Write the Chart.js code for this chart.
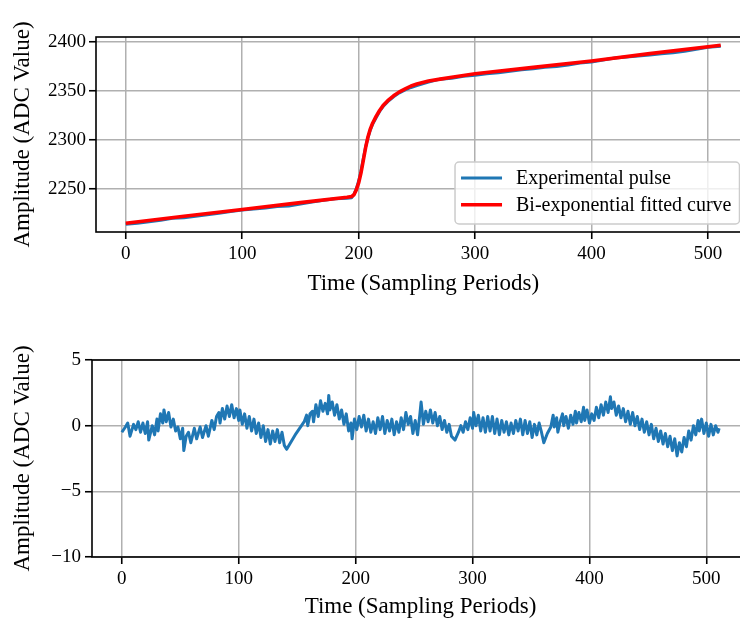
<!DOCTYPE html>
<html>
<head>
<meta charset="utf-8">
<script src="https://cdn.jsdelivr.net/npm/chart.js@4.4.1/dist/chart.umd.min.js"></script>
<style>
html, body { margin: 0; padding: 0; background: #fff; overflow: hidden; }
#wrap { position: relative; width: 740px; height: 621px; overflow: hidden; }
canvas { position: absolute; left: 0; }
#top { top: 0; }
#bottom { top: 320px; }
</style>
</head>
<body>
<div id="wrap">
  <canvas id="top" width="760" height="300"></canvas>
  <canvas id="bottom" width="760" height="301"></canvas>
</div>
<script>
// tick positions
const timeTicks = [0, 100, 200, 300, 400, 500]
const pulseTicks = [2250, 2300, 2350, 2400]
const residualTicks = [-10, -5, 0, 5]

// experimental pulse (ADC samples)
const pulseTime = [0, 10, 20, 30, 40, 50, 60, 70, 80, 90, 100, 110, 120, 130, 140, 150, 160, 170, 180, 190,
  194, 196, 198, 200, 202, 204, 206, 208, 210, 212, 215, 218, 221, 225, 230, 235, 240, 245, 250, 260,
  270, 280, 290, 300, 310, 320, 330, 340, 350, 360, 370, 380, 390, 400, 410, 420, 430, 440, 450, 460,
  470, 480, 490, 500, 511]
const pulseValue = [2214, 2215, 2216.5, 2218, 2220, 2220.5, 2222, 2223.5, 2225, 2227, 2228.5, 2229.5, 2230.5, 2232, 2232.5, 2234.5, 2236.5, 2238.5, 2240, 2240.5,
  2241, 2244.5, 2250, 2258, 2268, 2281, 2293, 2302, 2310, 2316, 2322.5, 2329, 2334, 2339, 2344, 2348, 2351, 2353.5, 2355.5, 2359,
  2362, 2363, 2365, 2366, 2367.5, 2368.5, 2370, 2371.5, 2372.5, 2374, 2375, 2376.5, 2378.5, 2379.5, 2381.5, 2383.5, 2384.5, 2385.5, 2386.5, 2388,
  2389, 2390.5, 2392.5, 2394.5, 2395.5]

// bi-exponential fit
const fitTime = [0, 50, 100, 150, 190, 194, 196, 198, 200, 202, 204, 206, 208, 210, 212, 215, 218, 221, 225, 230,
  235, 240, 245, 250, 260, 270, 280, 300, 350, 400, 450, 511]
const fitValue = [2215, 2222, 2229, 2236, 2241.5, 2242.3, 2244, 2249, 2256, 2266, 2279, 2292, 2303, 2311, 2317, 2324, 2330, 2335, 2340, 2345,
  2349, 2352, 2355, 2357, 2360, 2362, 2364, 2367.5, 2374, 2380.5, 2388, 2396.5]

// residual (experimental - fit)
const residualTime = [0, 3, 5, 7, 10, 12, 14, 16, 18, 20, 22, 23, 26, 28, 30, 31, 33, 35, 36, 38,
  40, 42, 44, 46, 48, 50, 52, 53, 55, 57, 59, 62, 64, 67, 69, 72, 74, 77, 79, 81,
  83, 84, 86, 88, 90, 92, 94, 96, 98, 100, 101, 103, 105, 107, 109, 111, 113, 115, 117, 119,
  121, 123, 125, 127, 129, 131, 133, 135, 137, 139, 141, 149, 156, 158, 159, 161, 163, 164, 166, 168,
  170, 172, 174, 176, 177, 178, 180, 182, 184, 186, 188, 190, 192, 194, 196, 197, 199, 201, 203, 205,
  207, 209, 211, 213, 215, 217, 219, 221, 223, 225, 227, 229, 231, 233, 235, 237, 239, 241, 243, 245,
  247, 249, 251, 253, 255, 256, 258, 260, 262, 264, 266, 268, 270, 272, 274, 276, 278, 280, 282, 285,
  288, 290, 292, 294, 296, 298, 300, 301, 303, 305, 307, 309, 311, 313, 315, 317, 319, 321, 323, 325,
  327, 329, 331, 333, 335, 337, 339, 341, 343, 345, 347, 349, 351, 353, 355, 357, 359, 361, 364, 367,
  369, 370, 372, 373, 375, 377, 378, 380, 382, 384, 386, 388, 389, 391, 393, 395, 396, 398, 400, 402,
  404, 406, 408, 410, 412, 414, 416, 418, 419, 421, 423, 425, 427, 429, 431, 433, 435, 437, 439, 441,
  443, 445, 447, 449, 451, 453, 455, 457, 459, 461, 463, 465, 467, 469, 471, 473, 475, 477, 479, 481,
  483, 485, 487, 489, 491, 493, 494, 496, 498, 500, 502, 504, 506, 508, 510, 511]
const residualValue = [-0.5, -0.1, 0.2, -0.8, 0.1, -0.3, 0.3, -0.5, 0.2, -0.6, 0.3, -1.1, 0.0, -0.7, 0.5, -0.4, 0.9, 0.2, 1.2, 0.3,
  1.0, -0.1, 0.5, -0.4, -0.1, -1.0, -0.2, -1.9, -0.8, -0.5, -1.3, -0.2, -1.0, -0.1, -0.9, 0.0, -0.8, 0.4, -0.3, 0.7,
  1.0, 0.2, 1.3, 0.5, 1.5, 0.7, 1.6, 0.6, 1.3, 0.4, 1.2, 0.1, 0.9, -0.2, 0.7, -0.4, 0.5, -0.6, 0.2, -0.9,
  0.0, -1.2, -0.3, -1.4, -0.4, -1.2, -0.3, -1.3, -0.5, -1.5, -1.8, -0.6, 0.3, 0.8, 0.0, 0.9, 1.1, 0.3, 1.6, 0.7,
  1.9, 1.1, 1.7, 0.9, 2.3, 1.2, 1.8, 0.8, 1.6, 0.5, 1.2, 0.1, 0.9, -0.4, 0.2, -1.0, 0.5, -0.3, 0.7, -0.1,
  0.8, -0.4, 0.5, -0.5, 0.3, -0.6, 0.6, -0.3, 0.7, -0.6, 0.4, -0.4, 0.5, -0.7, 0.3, -0.5, 0.6, -0.3, 1.0, 0.1,
  0.7, -0.6, 0.4, -0.7, 0.9, 1.8, 0.1, 1.1, 0.3, 1.2, 0.2, 1.0, 0.0, 0.7, -0.3, 0.4, -0.5, 0.1, -0.8, -1.1,
  -0.5, 0.0, -0.5, 0.3, -0.3, 0.6, -0.2, 1.0, 0.0, 0.8, -0.4, 0.6, -0.5, 0.7, -0.4, 0.7, -0.6, 0.5, -0.7, 0.4,
  -0.5, 0.3, -0.7, 0.2, -0.6, 0.4, -0.4, 0.5, -0.7, 0.4, -0.6, 0.3, -0.9, 0.1, -0.7, 0.2, -0.5, -1.3, -0.6, -0.1,
  0.8, -0.1, 0.6, -0.5, 0.3, 0.9, 0.0, 0.7, -0.2, 0.8, 0.1, 1.1, 0.2, 1.0, 0.3, 1.4, 0.4, 1.2, 0.2, 0.9,
  0.4, 1.4, 0.6, 1.6, 0.8, 1.8, 1.0, 2.2, 1.3, 1.8, 0.8, 1.5, 0.6, 1.3, 0.3, 1.1, 0.1, 1.0, 0.0, 0.7,
  -0.3, 0.5, -0.5, 0.3, -0.7, 0.1, -1.0, -0.2, -1.2, -0.4, -1.4, -0.6, -1.6, -0.8, -1.9, -1.0, -2.3, -1.3, -2.0, -0.9,
  -1.6, -0.4, -1.1, 0.0, -0.7, 0.4, -0.4, 0.5, -0.6, 0.2, -0.8, 0.1, -0.7, 0.0, -0.5, -0.2]

const serif = "'Liberation Serif', 'Times New Roman', serif"
const pts = (xs, ys) => xs.map((x, i) => ({ x: x, y: ys[i] }))
const fmt = v => String(v).replace('-', '\u2212')
const fixTicks = list => s => { s.ticks = list.map(v => ({ value: v })) }

function xAxis(height, titlePad) {
  return {
    type: 'linear', min: -25.55, max: 536.55,
    afterFit: s => { s.height = height },
    afterBuildTicks: fixTicks(timeTicks),
    border: { display: false },
    grid: { color: '#b0b0b0', lineWidth: 1.5, tickColor: '#000', tickWidth: 1.6, tickLength: 7 },
    ticks: { padding: 4, maxRotation: 0, autoSkip: false, color: '#000',
      font: { family: serif, size: 19 }, callback: fmt },
    title: { display: true, text: 'Time (Sampling Periods)', color: '#000',
      font: { family: serif, size: 23 }, padding: { top: 0, bottom: titlePad } },
  }
}

function yAxis(min, max, list, width, pad) {
  return {
    min: min, max: max,
    afterFit: s => { s.width = width },
    afterBuildTicks: fixTicks(list),
    border: { display: false },
    grid: { color: '#b0b0b0', lineWidth: 1.5, tickColor: '#000', tickWidth: 1.6, tickLength: 7 },
    ticks: { padding: pad, autoSkip: false, color: '#000',
      font: { family: serif, size: 19 }, callback: fmt },
    title: { display: true, text: 'Amplitude (ADC Value)', color: '#000',
      font: { family: serif, size: 23 }, padding: { top: 9, bottom: 0 } },
  }
}

// axes frame on top of the lines
const frame = {
  id: 'frame',
  afterDatasetsDraw(chart) {
    const { ctx, chartArea: a } = chart
    ctx.save()
    ctx.strokeStyle = '#000'
    ctx.lineWidth = 1.6
    ctx.strokeRect(a.left, a.top, a.right - a.left, a.bottom - a.top)
    ctx.restore()
  },
}

// matplotlib-like legend in the lower right corner
const legendBox = {
  id: 'legendBox',
  afterDraw(chart) {
    const { ctx, chartArea: a } = chart
    const sets = chart.data.datasets
    ctx.save()
    ctx.font = '20px ' + serif
    const textW = Math.max(...sets.map(d => ctx.measureText(d.label).width))
    const w = 6 + 41 + 14 + textW + 8
    const h = 62
    const x = a.right - 11 - w
    const y = a.bottom - 8 - h
    ctx.beginPath()
    ctx.roundRect(x, y, w, h, 4)
    ctx.fillStyle = 'rgba(255,255,255,0.8)'
    ctx.fill()
    ctx.strokeStyle = '#cccccc'
    ctx.lineWidth = 1.5
    ctx.stroke()
    sets.forEach((d, i) => {
      const cy = y + 16 + i * 26.7
      ctx.beginPath()
      ctx.moveTo(x + 6, cy)
      ctx.lineTo(x + 47, cy)
      ctx.strokeStyle = d.borderColor
      ctx.lineWidth = d.borderWidth
      ctx.stroke()
      ctx.fillStyle = '#000'
      ctx.textBaseline = 'middle'
      ctx.fillText(d.label, x + 61, cy + 1)
    })
    ctx.restore()
  },
}

const common = {
  responsive: false,
  animation: false,
  devicePixelRatio: 1,
  plugins: { legend: { display: false }, tooltip: { enabled: false } },
  elements: { point: { radius: 0 }, line: { tension: 0, borderJoinStyle: 'round' } },
}

new Chart(document.getElementById('top'), {
  type: 'line',
  data: {
    datasets: [
      { label: 'Experimental pulse', data: pts(pulseTime, pulseValue), borderColor: '#1f77b4', borderWidth: 3, order: 1 },
      { label: 'Bi-exponential fitted curve', data: pts(fitTime, fitValue), borderColor: '#ff0000', borderWidth: 3.6, order: 0 },
    ],
  },
  options: {
    ...common,
    layout: { padding: { left: 0, right: 9.5, top: 37, bottom: 0 } },
    scales: { x: xAxis(68, 2), y: yAxis(2206, 2405, pulseTicks, 96, 3) },
  },
  plugins: [frame, legendBox],
})

new Chart(document.getElementById('bottom'), {
  type: 'line',
  data: {
    datasets: [
      { label: 'Residual', data: pts(residualTime, residualValue), borderColor: '#1f77b4', borderWidth: 3 },
    ],
  },
  options: {
    ...common,
    layout: { padding: { left: 0, right: 11, top: 40, bottom: 0 } },
    scales: { x: xAxis(64, 0), y: yAxis(-10, 5, residualTicks, 92, 4) },
  },
  plugins: [frame],
})
</script>
</body>
</html>
